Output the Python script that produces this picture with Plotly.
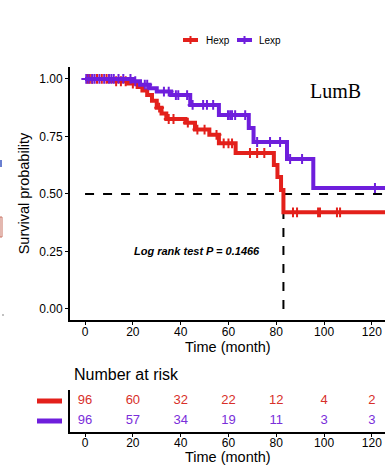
import plotly.graph_objects as go

# ---------------- data ----------------
groups = ["Hexp", "Lexp"]
colors = {"Hexp": "#E3201B", "Lexp": "#6E1EDC"}
risk_colors = {"Hexp": "#D8302A", "Lexp": "#7A2EDA"}

# Kaplan-Meier step curves (time, survival after step)
hexp_time = [0, 10, 18, 22, 24, 26, 28, 30, 32, 34, 42, 46, 52, 56, 63, 79, 80.5, 82, 83, 126]
hexp_surv = [1.0, 0.99, 0.98, 0.965, 0.95, 0.93, 0.905, 0.875, 0.85, 0.826, 0.81, 0.78, 0.757, 0.72,
             0.678, 0.626, 0.574, 0.517, 0.42, 0.42]
lexp_time = [0, 20, 23, 27, 30, 36, 44, 56, 68.5, 70.5, 84.5, 95.5, 126]
lexp_surv = [1.0, 0.99, 0.975, 0.96, 0.945, 0.93, 0.887, 0.843, 0.787, 0.726, 0.652, 0.526, 0.526]

# censoring times
hexp_cens = [1, 2, 3, 5, 7, 9, 13, 15, 17, 20, 31, 35, 37, 43, 47, 50, 55, 58, 60, 61.5, 69, 72, 75,
             87, 88.7, 97.5, 98.3, 105.4, 106.7]
lexp_cens = [0.5, 1.5, 3, 4, 6, 8, 10, 11, 12, 14, 16, 19, 21, 25, 26, 33, 35, 38, 39, 42.7, 45, 49.4,
             51, 53.6, 59.8, 60.7, 61.5, 62.8, 67, 72, 77.4, 81.6, 85.8, 90.8, 121.3]

# number at risk
risk_times = [0, 20, 40, 60, 80, 100, 120]
hexp_risk = [96, 60, 32, 22, 12, 4, 2]
lexp_risk = [96, 57, 34, 19, 11, 3, 3]

x_ticks = [0, 20, 40, 60, 80, 100, 120]
y_ticks = [0, 0.25, 0.5, 0.75, 1.0]
y_ticklabels = ["0.00", "0.25", "0.50", "0.75", "1.00"]
pvalue_text = "Log rank test P = 0.1466"
subtype = "LumB"
x_title = "Time (month)"
y_title = "Survival probability"

curves = {"Hexp": (hexp_time, hexp_surv, hexp_cens, hexp_risk),
          "Lexp": (lexp_time, lexp_surv, lexp_cens, lexp_risk)}


def surv_at(times, survs, t):
    s = survs[0]
    for ti, si in zip(times, survs):
        if ti <= t:
            s = si
        else:
            break
    return s


W, H = 389, 470
XR = [-6.3, 125.5]
FONT = "Liberation Sans, Arial, Helvetica, sans-serif"


def px(x):
    return x / W


def py(y):
    return 1 - y / H


fig = go.Figure()

# median lines (computed from Hexp curve)
med_t = next(t for t, s in zip(hexp_time, hexp_surv) if s <= 0.5)
fig.add_trace(go.Scatter(x=[0, XR[1]], y=[0.5, 0.5], mode="lines",
                         line=dict(color="black", width=2, dash="dash"),
                         showlegend=False, hoverinfo="skip", xaxis="x", yaxis="y"))
fig.add_trace(go.Scatter(x=[med_t, med_t], y=[0, 0.5], mode="lines",
                         line=dict(color="black", width=2, dash="dash"),
                         showlegend=False, hoverinfo="skip", xaxis="x", yaxis="y"))

for g in groups:
    t, s, c, r = curves[g]
    fig.add_trace(go.Scatter(x=t, y=s, mode="lines", line=dict(color=colors[g], width=4, shape="hv"),
                             showlegend=False, xaxis="x", yaxis="y"))
    fig.add_trace(go.Scatter(x=c, y=[surv_at(t, s, ci) for ci in c], mode="markers",
                             marker=dict(symbol="cross-thin", size=7, line=dict(color=colors[g], width=2)),
                             showlegend=False, xaxis="x", yaxis="y"))

# risk table
row_y = {"Hexp": 0.74, "Lexp": 0.26}
for g in groups:
    r = curves[g][3]
    fig.add_trace(go.Scatter(x=risk_times, y=[row_y[g]] * len(r), mode="text",
                             text=[str(v) for v in r],
                             textfont=dict(color=risk_colors[g], size=13, family=FONT),
                             showlegend=False, xaxis="x2", yaxis="y2"))

axis_common = dict(showline=True, linecolor="black", linewidth=2, ticks="outside", ticklen=3,
                   tickcolor="black", tickwidth=1, showgrid=False, zeroline=False,
                   tickfont=dict(size=12, color="black", family=FONT))

fig.update_layout(
    width=W, height=H,
    margin=dict(l=0, r=0, t=0, b=0),
    paper_bgcolor="white", plot_bgcolor="white",
    font=dict(family=FONT, color="black"),
    xaxis=dict(domain=[px(70), px(385)], range=XR, tickvals=x_ticks, anchor="y",
               ticklabelstandoff=-3, **axis_common),
    yaxis=dict(domain=[py(320), py(67)], range=[-0.048, 1.052], tickvals=y_ticks,
               ticktext=y_ticklabels, anchor="x",
               title=dict(text=y_title, font=dict(size=14.5), standoff=6), **axis_common),
    xaxis2=dict(domain=[px(70), px(385)], range=XR, tickvals=x_ticks, anchor="y2",
                ticklabelstandoff=-4, **axis_common),
    yaxis2=dict(domain=[py(432), py(390)], range=[0, 1], anchor="x2",
                showline=True, linecolor="black", linewidth=2, showticklabels=False, ticks="",
                showgrid=False, zeroline=False),
    showlegend=False,
)

ann = dict(showarrow=False, xref="paper", yref="paper")
fig.add_annotation(x=47, y=0.25, xref="x", yref="y", text="<b><i>" + pvalue_text + "</i></b>",
                   showarrow=False, font=dict(size=11, color="black", family=FONT))
fig.add_annotation(x=px(335), y=py(91), text=subtype, xanchor="center", yanchor="middle",
                   font=dict(size=20, color="black", family="Liberation Serif, Times New Roman, serif"),
                   **ann)
fig.add_annotation(x=px(72), y=py(374), text="Number at risk", xanchor="left", yanchor="middle",
                   font=dict(size=16, color="black", family=FONT), **ann)
fig.add_annotation(x=px(228), y=py(347), text=x_title, xanchor="center", yanchor="middle",
                   font=dict(size=14.5, color="black", family=FONT), **ann)
fig.add_annotation(x=px(228), y=py(457), text=x_title, xanchor="center", yanchor="middle",
                   font=dict(size=14.5, color="black", family=FONT), **ann)

# legend (top) : key line + censor tick + label
for g, x0, tx in (("Hexp", 183, 204), ("Lexp", 237, 257)):
    fig.add_shape(type="line", xref="paper", yref="paper", x0=px(x0), x1=px(x0 + 15),
                  y0=py(40), y1=py(40), line=dict(color=colors[g], width=4))
    fig.add_shape(type="line", xref="paper", yref="paper", x0=px(x0 + 7.5), x1=px(x0 + 7.5),
                  y0=py(36), y1=py(44), line=dict(color=colors[g], width=2))
    fig.add_annotation(x=px(tx), y=py(40), text=g, xanchor="left", yanchor="middle",
                       font=dict(size=10, color="black", family=FONT), **ann)

# strata keys in risk table
for g, ypx in (("Hexp", 401), ("Lexp", 421)):
    fig.add_shape(type="line", xref="paper", yref="paper", x0=px(37), x1=px(62),
                  y0=py(ypx), y1=py(ypx), line=dict(color=colors[g], width=5))

# faint fragments of a neighbouring panel at the left edge
fig.add_shape(type="rect", xref="paper", yref="paper", x0=0, x1=px(2), y0=py(167), y1=py(160),
              line=dict(width=0), fillcolor="#6A7FD0")
fig.add_shape(type="rect", xref="paper", yref="paper", x0=0, x1=px(2), y0=py(237), y1=py(217),
              line=dict(color="#C87060", width=1), fillcolor="rgba(0,0,0,0)")
fig.add_shape(type="circle", xref="paper", yref="paper", x0=px(2.3), x1=px(3.7), y0=py(315.7), y1=py(314.3),
              line=dict(width=0), fillcolor="#555555")

fig.write_html("out.html", config={"displayModeBar": False},
               post_script="document.body.style.margin='0';document.body.style.overflow='hidden';")
